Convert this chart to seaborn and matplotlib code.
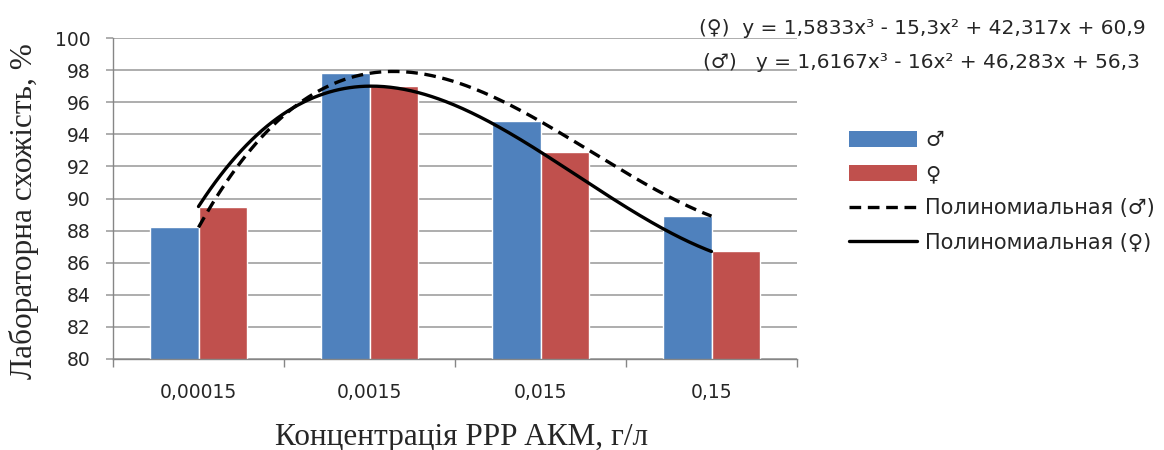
import numpy as np
import pandas as pd
import matplotlib
matplotlib.use("Agg")
import matplotlib.pyplot as plt
import seaborn as sns
from matplotlib.patches import Patch
from matplotlib.lines import Line2D

# Germination data per concentration
concentrations = ["0,00015", "0,0015", "0,015", "0,15"]
male_values = [88.2, 97.8, 94.8, 88.9]
female_values = [89.5, 97.0, 92.9, 86.7]

# Cubic trend coefficients (highest power first), x = 1..4 along categories
male_coef = [1.6167, -16, 46.283, 56.3]
female_coef = [1.5833, -15.3, 42.317, 60.9]

y_ticks = list(range(80, 101, 2))

sns.set_theme(style="white")
SANS = ["DejaVu Sans"]
SERIF = ["Liberation Serif", "DejaVu Serif"]
plt.rcParams["font.family"] = SANS

BLUE = "#4F81BD"
RED = "#C0504D"
GRID = "#a0a0a0"
AXIS = "#868686"
W, H = 1164, 450

df = pd.DataFrame({
    "conc": concentrations * 2,
    "value": male_values + female_values,
    "sex": ["♂"] * 4 + ["♀"] * 4,
})

fig = plt.figure(figsize=(W / 100, H / 100), dpi=100)
ax = fig.add_axes([113 / W, 1 - 359 / H, (797 - 113) / W, (359 - 38) / H])

sns.barplot(data=df, x="conc", y="value", hue="sex", hue_order=["♂", "♀"],
            order=concentrations, palette={"♂": BLUE, "♀": RED},
            width=0.573, saturation=1, legend=False, ax=ax, zorder=2)


def fmt_num(v):
    return f"{abs(v):g}".replace(".", ",")


def equation(coef):
    a, b, c, d = coef
    sign = lambda v: "-" if v < 0 else "+"
    return (f"y = {fmt_num(a)}x³ {sign(b)} {fmt_num(b)}x² "
            f"{sign(c)} {fmt_num(c)}x {sign(d)} {fmt_num(d)}")


t = np.linspace(0, 3, 300)
ax.plot(t, np.polyval(male_coef, t + 1), color="black", lw=2.4,
        dashes=(3.5, 2.0), zorder=4)
ax.plot(t, np.polyval(female_coef, t + 1), color="black", lw=2.4,
        zorder=4, solid_capstyle="round")

ax.set_ylim(80, 100)
ax.set_xlim(-0.5, 3.5)
ax.set_yticks(y_ticks)
ax.yaxis.grid(True, color=GRID, lw=1.2, zorder=0)
ax.set_axisbelow(True)

for s in ("top", "right"):
    ax.spines[s].set_visible(False)
for s in ("left", "bottom"):
    ax.spines[s].set_color(AXIS)
    ax.spines[s].set_linewidth(1.0)

ax.set_xticks(np.arange(-0.5, 4, 1), minor=False)
ax.set_xticklabels([])
ax.set_xticks(range(4), minor=True)
ax.set_xticklabels(concentrations, minor=True)
ax.tick_params(axis="x", which="major", direction="out", length=6,
               color=AXIS, width=1.0, bottom=True)
ax.tick_params(axis="x", which="minor", length=0, pad=17, labelsize=13.5)
ax.tick_params(axis="y", direction="out", length=5, color=GRID, width=1.2,
               left=True, pad=11, labelsize=13.5)
ax.set_xlabel("")
ax.set_ylabel("")

# Axis titles
fig.text(24 / W, 1 - 211 / H, "Лабораторна схожість, %", rotation=90,
         ha="center", va="center", fontsize=22.5, family=SERIF)
fig.text(462 / W, 1 - 445 / H, "Концентрація PPP АКМ, г/л", ha="center",
         va="baseline", fontsize=22.5, family=SERIF)

# Trend equations
fig.text(1146 / W, 1 - 28 / H, "(♀)  " + equation(female_coef), ha="right",
         va="center", fontsize=14.5)
fig.text(1140 / W, 1 - 63 / H, "(♂)   " + equation(male_coef), ha="right",
         va="center", fontsize=14.5)

handles = [
    Patch(facecolor=BLUE, edgecolor="none"),
    Patch(facecolor=RED, edgecolor="none"),
    Line2D([], [], color="black", lw=2.4, dashes=(3.5, 2.0)),
    Line2D([], [], color="black", lw=2.4),
]
labels = ["♂", "♀", "Полиномиальная (♂)", "Полиномиальная (♀)"]
fig.legend(handles, labels, loc="upper left",
           bbox_to_anchor=(849 / W, 1 - 130 / H), frameon=False,
           fontsize=15, handlelength=3.27, handleheight=0.78,
           labelspacing=0.68, handletextpad=0.4, borderaxespad=0,
           borderpad=0)

fig.savefig("out.png", dpi=100)
